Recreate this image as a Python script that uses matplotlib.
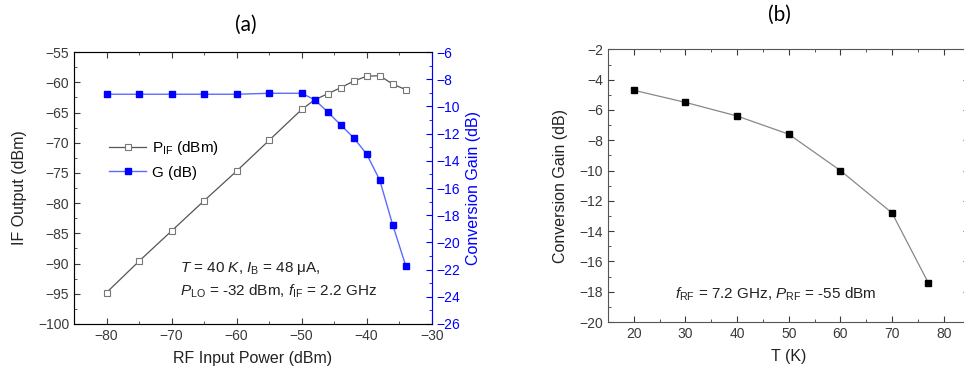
import numpy as np
import matplotlib.pyplot as plt
from matplotlib.ticker import MultipleLocator

# panel (a) data
rf_power = [-80, -75, -70, -65, -60, -55, -50, -48, -46, -44, -42, -40, -38, -36, -34]
p_if = [-94.8, -89.6, -84.6, -79.6, -74.7, -69.6, -64.5, -62.9, -61.9, -60.9, -59.8, -59.0, -58.9, -60.3, -61.2]
gain_a = [-9.1, -9.1, -9.1, -9.1, -9.1, -9.03, -9.03, -9.5, -10.4, -11.35, -12.3, -13.5, -15.4, -18.7, -21.7]

# panel (b) data
temp = [20, 30, 40, 50, 60, 70, 77]
gain_b = [-4.7, -5.5, -6.4, -7.6, -10.0, -12.8, -17.4]

plt.rcParams['font.family'] = ['Liberation Sans', 'DejaVu Sans']
plt.rcParams['mathtext.fontset'] = 'custom'
plt.rcParams['mathtext.it'] = 'Liberation Sans:italic'
plt.rcParams['mathtext.rm'] = 'Liberation Sans'

fig = plt.figure(figsize=(9.64, 3.74), dpi=100)
tick_col = '#3a3a3a'
blue = '#0000ff'

# ---- (a)
ax = fig.add_axes([0.0768, 0.1337, 0.371, 0.727])
ax.plot(rf_power, p_if, color='#555555', lw=0.9, marker='s', ms=3.8,
        mfc='white', mec='#777777', mew=0.8, label=r'P$_{\mathregular{IF}}$ (dBm)')
ax.set_xlim(-85, -30)
ax.set_ylim(-100, -55)
ax.xaxis.set_major_locator(MultipleLocator(10))
ax.xaxis.set_minor_locator(MultipleLocator(5))
ax.yaxis.set_major_locator(MultipleLocator(5))
ax.yaxis.set_minor_locator(MultipleLocator(2.5))
ax.tick_params(which='both', direction='in', top=True, colors=tick_col, labelsize=10)
ax.tick_params(which='major', length=4)
ax.tick_params(which='minor', length=2)
ax.set_xlabel('RF Input Power (dBm)', fontsize=11.5, color='#222222', labelpad=6)
ax.set_ylabel('IF Output (dBm)', fontsize=11.5, color='#222222', labelpad=8)
for s in ax.spines.values():
    s.set_color('#555555')

ax2 = ax.twinx()
ax2.plot(rf_power, gain_a, color='#5a6cff', lw=1.0, marker='s', ms=4,
         mfc=blue, mec=blue, label='G (dB)')
ax2.set_ylim(-26, -6)
ax2.yaxis.set_major_locator(MultipleLocator(2))
ax2.yaxis.set_minor_locator(MultipleLocator(1))
ax2.tick_params(axis='y', which='both', direction='in', colors=blue, labelsize=10)
ax2.tick_params(which='major', length=4)
ax2.tick_params(which='minor', length=2)
ax2.spines['right'].set_color(blue)
ax2.set_ylabel('Conversion Gain (dB)', fontsize=11.5, color=blue, labelpad=4)

h1, l1 = ax.get_legend_handles_labels()
h2, l2 = ax2.get_legend_handles_labels()
ax.legend(h1 + h2, l1 + l2, loc='upper left', bbox_to_anchor=(0.06, 0.73),
          frameon=False, fontsize=11, handlelength=2.4, handletextpad=0.4,
          labelspacing=0.55)

ax.text(0.295, 0.19, r'$T$ = 40 $K$, $I_{\mathregular{B}}$ = 48 μA,',
        transform=ax.transAxes, fontsize=11, color='#222222')
ax.text(0.295, 0.105, r'$P_{\mathregular{LO}}$ = -32 dBm, $f_{\mathregular{IF}}$ = 2.2 GHz',
        transform=ax.transAxes, fontsize=11, color='#222222')
fig.text(246 / 964, 1 - 25 / 374, '(a)', ha='center', va='center', fontsize=15,
         family=['Lato', 'DejaVu Sans'])

# ---- (b)
bx = fig.add_axes([0.6307, 0.139, 0.375, 0.729])
bx.plot(temp, gain_b, color='#888888', lw=0.9, marker='s', ms=5,
        mfc='black', mec='black')
bx.set_xlim(15, 85)
bx.set_ylim(-20, -2)
bx.xaxis.set_major_locator(MultipleLocator(10))
bx.xaxis.set_minor_locator(MultipleLocator(5))
bx.yaxis.set_major_locator(MultipleLocator(2))
bx.yaxis.set_minor_locator(MultipleLocator(1))
bx.tick_params(which='both', direction='in', top=True, right=True,
               colors=tick_col, labelsize=10)
bx.tick_params(which='major', length=4)
bx.tick_params(which='minor', length=2)
for s in bx.spines.values():
    s.set_color('#555555')
bx.set_xlabel('T (K)', fontsize=11.5, color='#222222', labelpad=6)
bx.set_ylabel('Conversion Gain (dB)', fontsize=11.5, color='#222222', labelpad=8)
bx.text(0.185, 0.085, r'$f_{\mathregular{RF}}$ = 7.2 GHz, $P_{\mathregular{RF}}$ = -55 dBm',
        transform=bx.transAxes, fontsize=11, color='#222222')
fig.text(779 / 964, 1 - 15 / 374, '(b)', ha='center', va='center', fontsize=15,
         family=['Lato', 'DejaVu Sans'])

fig.savefig('out.png', dpi=100)
